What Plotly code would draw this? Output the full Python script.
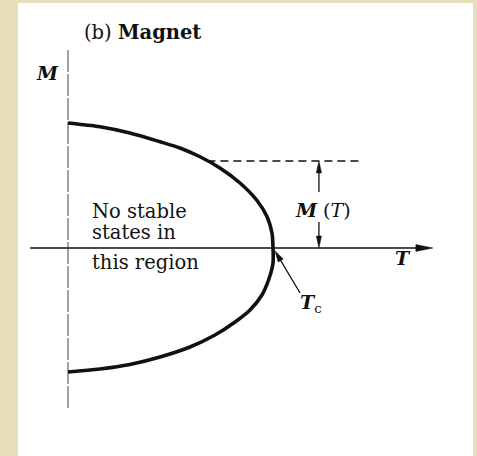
import numpy as np
import plotly.graph_objects as go

# Spontaneous magnetisation M(T) of a magnet, normalised so that M(0)=1 and Tc=1
T_upper = [0.0, 0.156, 0.302, 0.449, 0.546, 0.644, 0.741, 0.839, 0.922, 0.971, 0.995, 1.0]
M_upper = [1.0, 0.97, 0.92, 0.85, 0.80, 0.73, 0.64, 0.52, 0.38, 0.25, 0.12, 0.0]
T_lower = [0.0, 0.156, 0.302, 0.449, 0.595, 0.717, 0.815, 0.888, 0.946, 0.980, 1.0]
M_lower = [-0.992, -0.968, -0.932, -0.872, -0.792, -0.696, -0.592, -0.496, -0.376, -0.248, -0.12]

T_c = 1.0
T_ref = 0.68                      # temperature at which M(T) is marked
M_ref = float(np.interp(T_ref, T_upper, M_upper))

# pixel scale of the data units (used for arrowhead geometry)
PX_T = 205.0
PX_M = 125.0
x_range = [-68 / PX_T, (477 - 68) / PX_T]
y_range = [(248 - 456) / PX_M, 248 / PX_M]

INK = "#111111"
SERIF = "DejaVu Serif"

# one continuous branch: top -> Tc -> bottom
T_curve = T_upper + T_lower[::-1]
M_curve = M_upper + M_lower[::-1]

fig = go.Figure()
fig.add_trace(go.Scatter(x=T_curve, y=M_curve, mode="lines",
                         line=dict(color=INK, width=3.6, shape="spline", smoothing=0.8),
                         hoverinfo="skip"))


def arrowhead(tip_t, tip_m, dx, dy, length, half):
    """Filled triangle with its point at (tip_t, tip_m), pointing along screen direction (dx, dy)."""
    n = (dx * dx + dy * dy) ** 0.5
    ux, uy = dx / n, dy / n
    bx, by = -ux * length, -uy * length
    px_, py_ = -uy * half, ux * half
    pts = [(0, 0), (bx + px_, by + py_), (bx - px_, by - py_)]
    coords = [(tip_t + x / PX_T, tip_m - y / PX_M) for x, y in pts]
    path = "M {} {} L {} {} L {} {} Z".format(*[v for p in coords for v in p])
    return dict(type="path", path=path, fillcolor=INK, line=dict(color=INK, width=0.5),
                xref="x", yref="y", layer="above")


shapes = []
# white sheet on the beige page
shapes.append(dict(type="rect", xref="paper", yref="paper", x0=18 / 477, x1=473 / 477,
                   y0=0, y1=1 - 3 / 456, fillcolor="white", line=dict(width=0), layer="below"))
# M axis (thin, broken)
shapes.append(dict(type="line", xref="x", yref="y", x0=0, x1=0, y0=1.584, y1=-1.296,
                   line=dict(color="#444444", width=1, dash="22px,2px"), layer="below"))
# T axis with arrow
T_axis_tip = 1.78
shapes.append(dict(type="line", xref="x", yref="y", x0=-0.185, x1=T_axis_tip - 12 / PX_T,
                   y0=0, y1=0, line=dict(color=INK, width=1.5)))
shapes.append(arrowhead(T_axis_tip, 0, 1, 0, 17, 3.4))
# dashed reference level M(T)
shapes.append(dict(type="line", xref="x", yref="y", x0=T_ref, x1=1.44, y0=M_ref, y1=M_ref,
                   line=dict(color=INK, width=1.4, dash="8px,5px")))
# double arrow showing M(T)
T_dim = 1.224
shapes.append(dict(type="line", xref="x", yref="y", x0=T_dim, x1=T_dim, y0=0.448, y1=M_ref - 8 / PX_M,
                   line=dict(color=INK, width=1.3)))
shapes.append(arrowhead(T_dim, M_ref, 0, -1, 12, 2.6))
shapes.append(dict(type="line", xref="x", yref="y", x0=T_dim, x1=T_dim, y0=0.208, y1=8 / PX_M,
                   line=dict(color=INK, width=1.3)))
shapes.append(arrowhead(T_dim, 0, 0, 1, 12, 2.6))
# pointer to Tc
tc_tip = (T_c + 0.01, -0.024)
tc_tail = (1.132, -0.36)
dxp = (tc_tip[0] - tc_tail[0]) * PX_T
dyp = -(tc_tip[1] - tc_tail[1]) * PX_M
shapes.append(dict(type="line", xref="x", yref="y", x0=tc_tail[0], y0=tc_tail[1],
                   x1=tc_tip[0] - dxp / np.hypot(dxp, dyp) * 8 / PX_T,
                   y1=tc_tip[1] + dyp / np.hypot(dxp, dyp) * 8 / PX_M,
                   line=dict(color=INK, width=1.3)))
shapes.append(arrowhead(tc_tip[0], tc_tip[1], dxp, dyp, 11, 3))

ann = []


def text(x, y, s, size=19.5, xanchor="center"):
    ann.append(dict(x=x, y=y, xref="x", yref="y", text=s, showarrow=False,
                    xanchor=xanchor, yanchor="middle",
                    font=dict(family=SERIF, size=size, color=INK)))


text(0.068, 1.728, "(b) <b>Magnet</b>", xanchor="left")
text(-0.102, 1.40, "<b><i>M</i></b>", size=19)
text(0.107, 0.296, "No stable", xanchor="left")
text(0.107, 0.128, "states in", xanchor="left")
text(0.107, -0.116, "this region", xanchor="left")
text(1.634, -0.08, "<b><i>T</i></b>", size=19)
text(1.244, 0.304, "<b><i>M</i></b> (<i>T</i>)", size=19)
text(1.122, -0.44, "<b><i>T</i></b><sub>c</sub>", size=19, xanchor="left")

fig.update_layout(
    width=477, height=456, margin=dict(l=0, r=0, t=0, b=0),
    paper_bgcolor="#E6DEB8", plot_bgcolor="rgba(0,0,0,0)",
    showlegend=False, shapes=shapes, annotations=ann,
    xaxis=dict(range=x_range, visible=False, fixedrange=True),
    yaxis=dict(range=y_range, visible=False, fixedrange=True),
)

fig.write_html("out.html")
